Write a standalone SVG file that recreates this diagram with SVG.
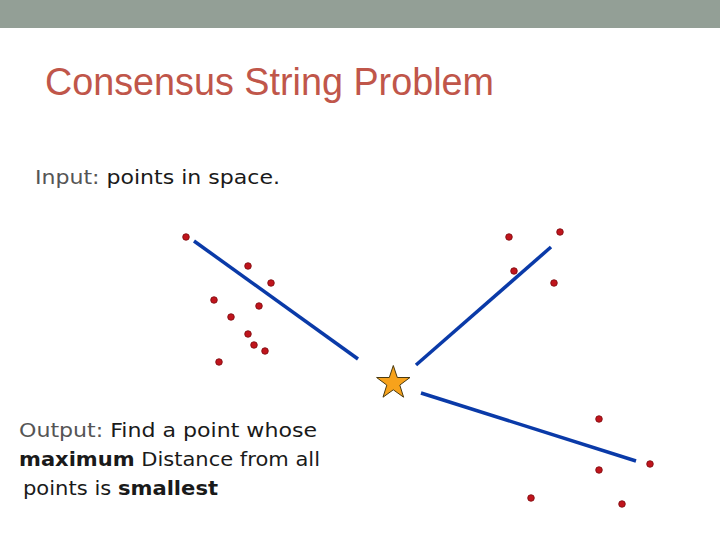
<svg xmlns="http://www.w3.org/2000/svg" width="720" height="540" viewBox="0 0 720 540">
<defs>
<style>
.pt{fill:#c0141c;stroke:#7a0a0e;stroke-width:0.8}
.ln{stroke:#0a3aa8;stroke-width:3.5;stroke-linecap:butt;fill:none}
.body{font-family:"DejaVu Sans","Liberation Sans",sans-serif;font-size:20px;fill:#1a1a1a}
.gray{fill:#555}
</style>
</defs>
<rect x="0" y="0" width="720" height="540" fill="#ffffff"/>
<rect x="0" y="0" width="720" height="28" fill="#939f96"/>
<text x="45" y="95" font-family="'Liberation Sans',Arial,sans-serif" font-size="38" fill="#c0564a" textLength="449" lengthAdjust="spacingAndGlyphs">Consensus String Problem</text>
<text class="body" x="35" y="184" textLength="245" lengthAdjust="spacingAndGlyphs"><tspan class="gray">Input:</tspan> points in space.</text>
<text class="body" x="19" y="437" textLength="298" lengthAdjust="spacingAndGlyphs"><tspan class="gray">Output:</tspan> Find a point whose</text>
<text class="body" x="19" y="466" textLength="301" lengthAdjust="spacingAndGlyphs"><tspan font-weight="bold">maximum</tspan> Distance from all</text>
<text class="body" x="23" y="495" textLength="195" lengthAdjust="spacingAndGlyphs">points is <tspan font-weight="bold">smallest</tspan></text>
<g id="connectors">
<line class="ln" x1="194" y1="241" x2="358" y2="359"/>
<line class="ln" x1="551" y1="247" x2="416" y2="365"/>
<line class="ln" x1="421" y1="393" x2="636" y2="461"/>
</g>
<g id="points">
<circle class="pt" cx="186" cy="237" r="3.3"/>
<circle class="pt" cx="248" cy="266" r="3.3"/>
<circle class="pt" cx="271" cy="283" r="3.3"/>
<circle class="pt" cx="214" cy="300" r="3.3"/>
<circle class="pt" cx="259" cy="306" r="3.3"/>
<circle class="pt" cx="231" cy="317" r="3.3"/>
<circle class="pt" cx="248" cy="334" r="3.3"/>
<circle class="pt" cx="254" cy="345" r="3.3"/>
<circle class="pt" cx="265" cy="351" r="3.3"/>
<circle class="pt" cx="219" cy="362" r="3.3"/>
<circle class="pt" cx="509" cy="237" r="3.3"/>
<circle class="pt" cx="560" cy="232" r="3.3"/>
<circle class="pt" cx="514" cy="271" r="3.3"/>
<circle class="pt" cx="554" cy="283" r="3.3"/>
<circle class="pt" cx="599" cy="419" r="3.3"/>
<circle class="pt" cx="650" cy="464" r="3.3"/>
<circle class="pt" cx="599" cy="470" r="3.3"/>
<circle class="pt" cx="531" cy="498" r="3.3"/>
<circle class="pt" cx="622" cy="504" r="3.3"/>
</g>
<g id="star">
<polygon points="393.3,365.5 397.3,377.5 410,377.5 399.8,385.1 403.6,397.2 393.3,389.8 383,397.2 386.8,385.1 376.6,377.5 389.3,377.5" fill="#f7a21b" stroke="#4a3a10" stroke-width="1"/>
</g>
</svg>
